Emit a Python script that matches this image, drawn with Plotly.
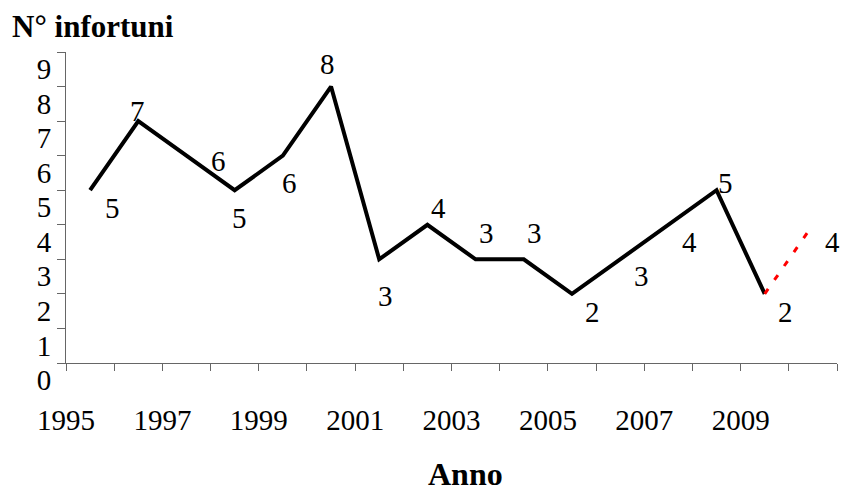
import plotly.graph_objects as go

# ---- data ----
years = [1995, 1996, 1997, 1998, 1999, 2000, 2001, 2002, 2003, 2004,
         2005, 2006, 2007, 2008, 2009]
infortuni = [5, 7, 6, 5, 6, 8, 3, 4, 3, 3, 2, 3, 4, 5, 2]
forecast_years = [2009, 2010]
forecast_values = [2, 4]

x_tick_positions = [1994.5 + i for i in range(17)]
x_tick_labels = ["1995", "", "1997", "", "1999", "", "2001", "", "2003", "",
                 "2005", "", "2007", "", "2009", "", ""]
y_tick_values = [0, 1, 2, 3, 4, 5, 6, 7, 8, 9]
y_tick_labels = ["0", "1", "2", "3", "4", "5", "6", "7", "8", "9"]

label_years = years + [2010]
label_values = infortuni + [4]
# pixel offsets of each data label (dx right, dy down)
label_offsets = [(22, 18), (-1, -10), (32, 5), (5, 28), (7, 27), (-4, -23),
                 (6, 37), (11, -17), (11, -26), (11, -26), (21, 18), (21, 17),
                 (21, 17), (9, -7), (21, 18), (20, 17)]

FONT = "Liberation Serif"
AX = "#666666"
PLOT_L, PLOT_R = 66, 837

fig = go.Figure()
fig.add_trace(go.Scatter(x=years, y=infortuni, mode="lines",
                         line=dict(color="black", width=4),
                         showlegend=False, hoverinfo="skip"))
fig.add_trace(go.Scatter(x=forecast_years, y=forecast_values, mode="lines",
                         line=dict(color="red", width=3, dash="6px,11px"),
                         showlegend=False, hoverinfo="skip"))

annotations = []
for yr, v, (dx, dy) in zip(label_years, label_values, label_offsets):
    annotations.append(dict(x=yr, y=v, xref="x", yref="y", text=str(v),
                            showarrow=False, xshift=dx, yshift=-dy,
                            font=dict(family=FONT, size=29, color="black")))
annotations.append(dict(x=(465 - PLOT_L) / (PLOT_R - PLOT_L), y=0,
                        xref="paper", yref="paper",
                        text="<b>Anno</b>", showarrow=False,
                        xanchor="center", yanchor="bottom", yshift=-131,
                        font=dict(family=FONT, size=32, color="black")))

fig.update_layout(
    width=844, height=493,
    margin=dict(l=PLOT_L, r=844 - PLOT_R, t=52, b=130),
    paper_bgcolor="white", plot_bgcolor="white",
    font=dict(family=FONT, size=29, color="black"),
    title=dict(text="<b>N&#176; infortuni</b>", xref="container", yref="container",
               x=12 / 844, xanchor="left", y=1 - 26 / 493, yanchor="middle",
               font=dict(family=FONT, size=31, color="black")),
    annotations=annotations,
    xaxis=dict(range=[1994.5, 2010.5], tickmode="array",
               tickvals=x_tick_positions, ticktext=x_tick_labels,
               ticks="outside", ticklen=7, tickcolor=AX, tickwidth=1,
               showline=True, linecolor=AX, linewidth=1,
               showgrid=False, zeroline=False, ticklabelstandoff=24,
               tickfont=dict(family=FONT, size=29, color="black")),
    yaxis=dict(range=[0, 9], tickmode="array",
               tickvals=y_tick_values, ticktext=y_tick_labels,
               ticks="outside", ticklen=8, tickcolor=AX, tickwidth=1,
               showline=True, linecolor=AX, linewidth=1,
               showgrid=False, zeroline=False, ticklabelshift=17,
               ticklabelstandoff=0,
               tickfont=dict(family=FONT, size=29, color="black")),
)

fig.write_html("out.html")
